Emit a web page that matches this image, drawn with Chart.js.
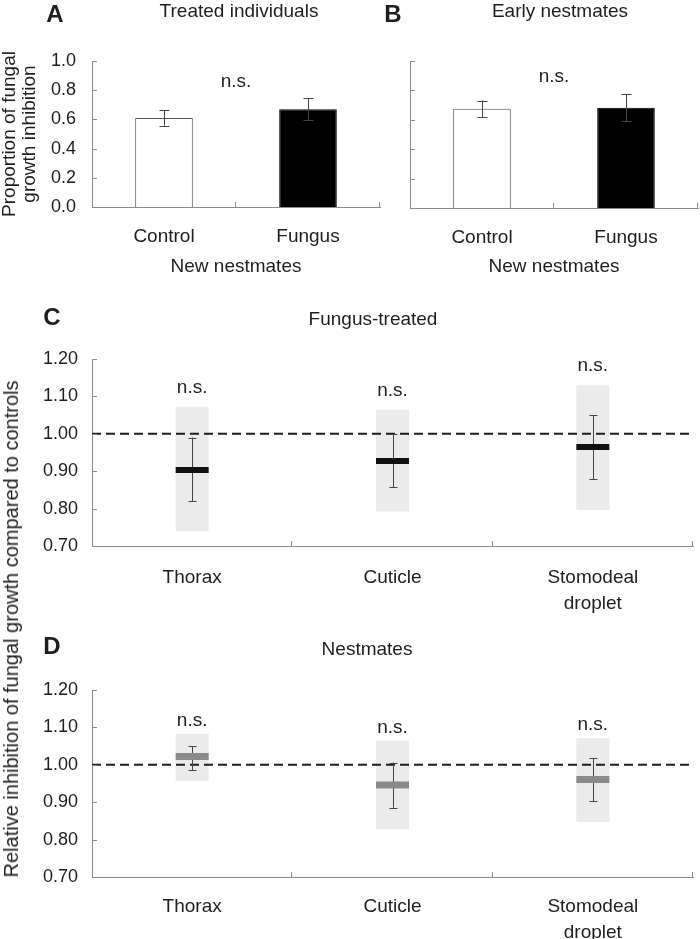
<!DOCTYPE html>
<html lang="en">
<head>
<meta charset="UTF-8">
<title>Fungal growth inhibition</title>
<script src="https://cdn.jsdelivr.net/npm/chart.js"></script>
<style>
    body { margin: 0; background: #fff; }
    #figure { position: relative; width: 700px; height: 939px; font-family: "Liberation Sans", Arial, sans-serif; }
    #figure canvas { position: absolute; }
    #titleCD {
        position: absolute; left: 11px; top: 629px;
        transform: translate(-50%, -50%) rotate(-90deg);
        white-space: nowrap; font-size: 20px; line-height: 1; color: #1e1e1e;
    }
</style>
</head>
<body>
<div id="figure">
    <canvas id="chartA" width="382" height="290" style="left:0;top:0"></canvas>
    <canvas id="chartB" width="318" height="290" style="left:382px;top:0"></canvas>
    <canvas id="chartC" width="700" height="330" style="left:0;top:290px"></canvas>
    <canvas id="chartD" width="700" height="319" style="left:0;top:620px"></canvas>
    <div id="titleCD">Relative inhibition of fungal growth compared to controls</div>
</div>

<script>
    // panels A and B: proportion of fungal growth inhibition
    const groups = ['Control', 'Fungus'];
    const meanA = [0.61, 0.67];
    const errA = [0.053, 0.074];
    const meanB = [0.675, 0.682];
    const errB = [0.056, 0.093];
    const ticksAB = [0, 0.2, 0.4, 0.6, 0.8, 1.0];

    // panels C and D: relative inhibition (mean, error bar, grey range)
    const sources = ['Thorax', 'Cuticle', ['Stomodeal', 'droplet']];
    const meanC = [0.903, 0.927, 0.965];
    const lowC = [0.820, 0.857, 0.879];
    const highC = [0.990, 1.000, 1.050];
    const rangeLowC = [0.740, 0.792, 0.796];
    const rangeHighC = [1.072, 1.064, 1.130];
    const meanD = [1.022, 0.946, 0.961];
    const lowD = [0.986, 0.885, 0.903];
    const highD = [1.050, 1.006, 1.018];
    const rangeLowD = [0.957, 0.827, 0.847];
    const rangeHighD = [1.083, 1.065, 1.071];
    const ticksCD = [0.70, 0.80, 0.90, 1.00, 1.10, 1.20];
    const reference = 1.00;

    const axisColor = '#8c8c8c';
    const ink = '#1e1e1e';
    const family = '"Liberation Sans", Arial, sans-serif';
    Chart.defaults.font.family = family;
    Chart.defaults.color = ink;

    function drawUnder(chart, o) {
        const ctx = chart.ctx, a = chart.chartArea, x = chart.scales.x, y = chart.scales.y;
        ctx.save();
        if (o.refLine !== undefined) {
            const py = y.getPixelForValue(o.refLine);
            ctx.strokeStyle = ink;
            ctx.lineWidth = 2;
            ctx.setLineDash([9, 5]);
            ctx.beginPath();
            ctx.moveTo(a.left, py);
            ctx.lineTo(a.right, py);
            ctx.stroke();
            ctx.setLineDash([]);
        }
        if (o.errors) {
            ctx.strokeStyle = '#444';
            ctx.lineWidth = 1;
            ctx.beginPath();
            o.errors.low.forEach((lo, i) => {
                const px = Math.round(x.getPixelForValue(i)) + 0.5;
                const p1 = y.getPixelForValue(lo), p2 = y.getPixelForValue(o.errors.high[i]);
                const c = o.errors.cap / 2;
                ctx.moveTo(px, p1); ctx.lineTo(px, p2);
                ctx.moveTo(px - c, Math.round(p1) + 0.5); ctx.lineTo(px + c, Math.round(p1) + 0.5);
                ctx.moveTo(px - c, Math.round(p2) + 0.5); ctx.lineTo(px + c, Math.round(p2) + 0.5);
            });
            ctx.stroke();
        }
        ctx.restore();
    }

    const decor = {
        id: 'decor',
        beforeDatasetDraw(chart, args, o) {
            if (o.under === args.index) drawUnder(chart, o);
        },
        afterDatasetsDraw(chart, args, o) {
            if (o.under === undefined) drawUnder(chart, o);
        },
        afterDraw(chart, args, o) {
            const ctx = chart.ctx, a = chart.chartArea, x = chart.scales.x, y = chart.scales.y;
            ctx.save();
            // ticks pointing into the plot
            ctx.strokeStyle = axisColor;
            ctx.lineWidth = 1;
            ctx.beginPath();
            y.ticks.forEach((t, i) => {
                if (i === 0) return;
                const py = Math.round(y.getPixelForValue(t.value)) + 0.5;
                ctx.moveTo(a.left, py); ctx.lineTo(a.left + 5, py);
            });
            const n = x.ticks.length, w = (a.right - a.left) / n;
            for (let k = 1; k <= n; k++) {
                const px = Math.round(a.left + k * w) - 0.5;
                ctx.moveTo(px, a.bottom); ctx.lineTo(px, a.bottom - 5);
            }
            ctx.stroke();

            ctx.fillStyle = ink;
            ctx.textAlign = 'center';
            ctx.textBaseline = 'middle';
            (o.texts || []).forEach(t => {
                ctx.font = t.font;
                ctx.fillText(t.text, t.x, t.y);
            });
            ctx.font = '19px ' + family;
            if (o.sig) {
                o.sig.at.forEach((v, i) => {
                    ctx.fillText('n.s.', x.getPixelForValue(v), y.getPixelForValue(o.sig.value[i]));
                });
            }
            if (o.sigAbove) {
                o.sigAbove.forEach((v, i) => {
                    ctx.fillText('n.s.', x.getPixelForValue(i), y.getPixelForValue(v) - o.sigGap);
                });
            }
            ctx.restore();
        }
    };

    function barPanel(id, means, errs, opts) {
        return new Chart(document.getElementById(id), {
            type: 'bar',
            data: {
                labels: groups,
                datasets: [{
                    data: means,
                    backgroundColor: ['#ffffff', '#000000'],
                    borderColor: ['#555555', '#000000'],
                    borderWidth: 1,
                    borderSkipped: 'bottom',
                    barPercentage: 0.4,
                    categoryPercentage: 1
                }]
            },
            options: {
                responsive: false,
                animation: false,
                layout: { padding: { top: 61, right: 2 }, autoPadding: false },
                plugins: {
                    legend: { display: false },
                    tooltip: { enabled: false },
                    decor: {
                        errors: {
                            low: means.map((m, i) => m - errs[i]),
                            high: means.map((m, i) => m + errs[i]),
                            cap: 10
                        },
                        sig: { at: [0.5], value: [opts.sig] },
                        texts: opts.texts
                    }
                },
                scales: {
                    x: {
                        grid: { display: false, drawTicks: false },
                        border: { color: axisColor },
                        ticks: { font: { size: 19 }, padding: 18 },
                        title: { display: true, text: 'New nestmates', font: { size: 19 }, padding: { top: 0, bottom: 12 } },
                        afterFit: s => { s.height = opts.xHeight; }
                    },
                    y: {
                        min: 0, max: 1,
                        afterBuildTicks: s => { s.ticks = ticksAB.map(v => ({ value: v })); },
                        grid: { display: false, drawTicks: false },
                        border: { color: axisColor },
                        ticks: { display: opts.yLabels, font: { size: 18 }, padding: 16, callback: v => v.toFixed(1) },
                        title: {
                            display: opts.yLabels,
                            text: ['Proportion of fungal', 'growth inhibition'],
                            font: { size: 19, lineHeight: 1.05 },
                            padding: { top: 0, bottom: 0 }
                        },
                        afterFit: s => { s.width = opts.yWidth; }
                    }
                }
            },
            plugins: [decor]
        });
    }

    function rangePanel(id, means, lows, highs, rangeLows, rangeHighs, opts) {
        return new Chart(document.getElementById(id), {
            type: 'bar',
            data: {
                labels: sources,
                datasets: [{
                    data: rangeLows.map((v, i) => [v, rangeHighs[i]]),
                    backgroundColor: '#ebebeb',
                    borderWidth: 0,
                    barPercentage: 0.165,
                    categoryPercentage: 1,
                    order: 1
                }, {
                    type: 'line',
                    data: means,
                    showLine: false,
                    pointStyle: 'line',
                    pointRadius: 16.5,
                    pointBorderWidth: opts.markWidth,
                    pointBorderColor: opts.markColor,
                    pointBackgroundColor: opts.markColor,
                    order: 0
                }]
            },
            options: {
                responsive: false,
                animation: false,
                layout: { padding: { top: opts.top, right: 7 }, autoPadding: false },
                plugins: {
                    legend: { display: false },
                    tooltip: { enabled: false },
                    decor: {
                        under: 1,
                        refLine: reference,
                        errors: { low: lows, high: highs, cap: 8 },
                        sigAbove: rangeHighs,
                        sigGap: opts.sigGap,
                        texts: opts.texts
                    }
                },
                scales: {
                    x: {
                        grid: { display: false, drawTicks: false },
                        border: { color: axisColor },
                        ticks: { font: { size: 19, lineHeight: 1.37 }, padding: opts.labelPad, maxRotation: 0 },
                        afterFit: s => { s.height = opts.xHeight; }
                    },
                    y: {
                        min: 0.7, max: 1.2,
                        afterBuildTicks: s => { s.ticks = ticksCD.map(v => ({ value: v })); },
                        grid: { display: false, drawTicks: false },
                        border: { color: axisColor },
                        ticks: { font: { size: 18 }, padding: 14, callback: v => v.toFixed(2) },
                        afterFit: s => { s.width = 92; }
                    }
                }
            },
            plugins: [decor]
        });
    }

    const letterFont = 'bold 24px ' + family;
    const titleFont = '19px ' + family;

    barPanel('chartA', meanA, errA, {
        yLabels: true, yWidth: 92, xHeight: 83, sig: 0.86,
        texts: [
            { text: 'A', x: 55, y: 15, font: letterFont },
            { text: 'Treated individuals', x: 239, y: 12, font: titleFont }
        ]
    });

    barPanel('chartB', meanB, errB, {
        yLabels: false, yWidth: 28, xHeight: 82, sig: 0.89,
        texts: [
            { text: 'B', x: 11, y: 15, font: letterFont },
            { text: 'Early nestmates', x: 178, y: 12, font: titleFont }
        ]
    });

    rangePanel('chartC', meanC, lowC, highC, rangeLowC, rangeHighC, {
        top: 69, xHeight: 74, labelPad: 19, markColor: '#111111', markWidth: 6, sigGap: 19,
        texts: [
            { text: 'C', x: 52, y: 28, font: letterFont },
            { text: 'Fungus-treated', x: 373, y: 30, font: titleFont }
        ]
    });

    rangePanel('chartD', meanD, lowD, highD, rangeLowD, rangeHighD, {
        top: 70, xHeight: 62, labelPad: 17, markColor: '#8a8a8a', markWidth: 7, sigGap: 13,
        texts: [
            { text: 'D', x: 52, y: 27, font: letterFont },
            { text: 'Nestmates', x: 367, y: 30, font: titleFont }
        ]
    });
</script>
</body>
</html>
